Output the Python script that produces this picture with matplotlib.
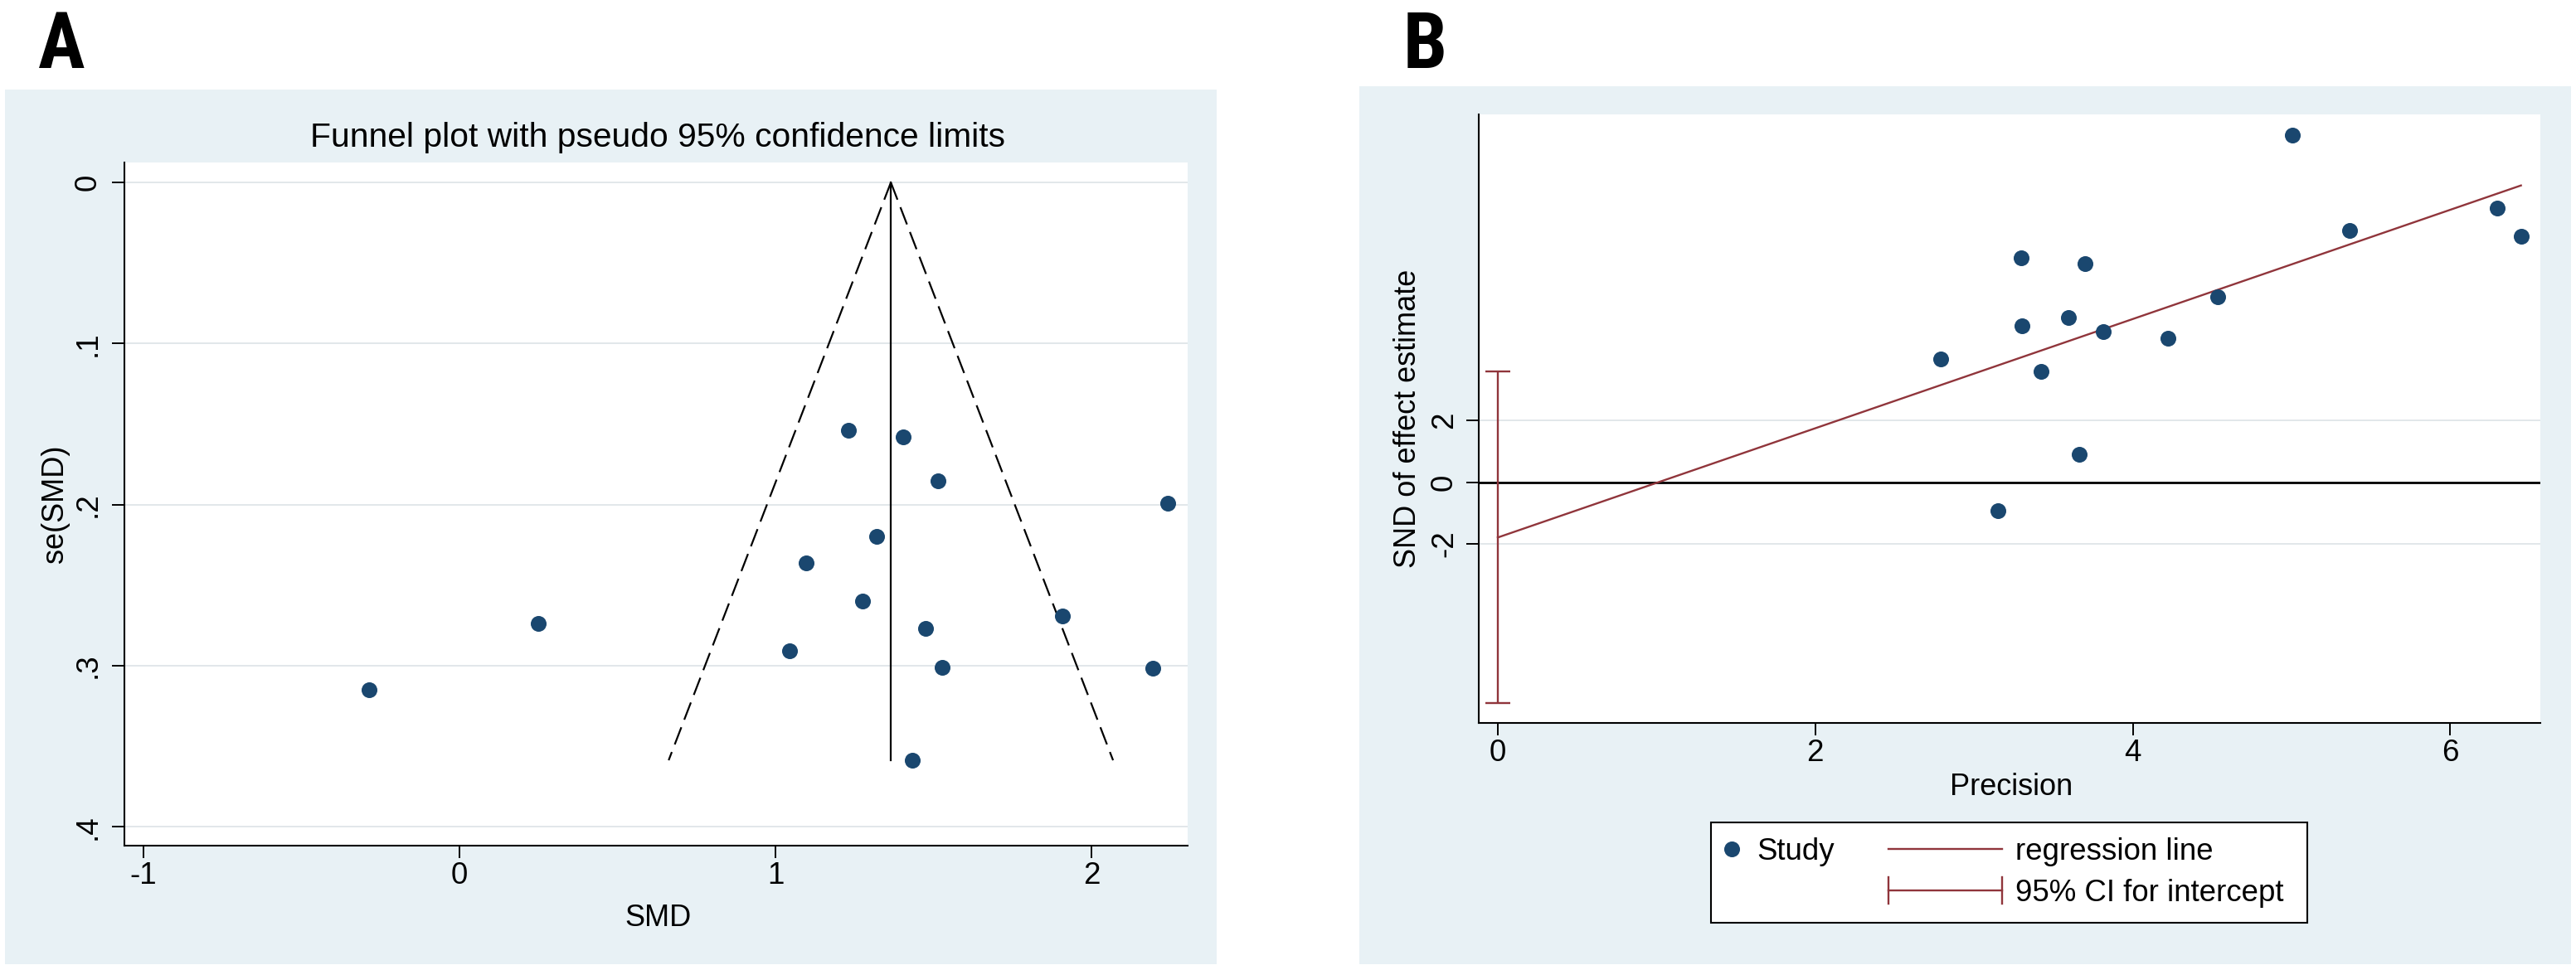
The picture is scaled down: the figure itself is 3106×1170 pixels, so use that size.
import matplotlib
matplotlib.use('Agg')
import matplotlib.pyplot as plt
from matplotlib.patches import Rectangle
from matplotlib.lines import Line2D
from matplotlib.legend_handler import HandlerBase
from matplotlib import font_manager as fm

# ---------------- data ----------------
# Panel A: funnel plot
smd = [-0.286, 0.25, 1.231, 1.404, 1.514, 2.240, 1.320, 1.097, 1.276, 1.908,
       1.475, 1.044, 1.526, 2.194, 1.432]
se_smd = [0.315, 0.274, 0.154, 0.158, 0.185, 0.199, 0.2195, 0.236, 0.260, 0.269,
          0.277, 0.2905, 0.301, 0.3016, 0.3587]
pooled_smd = 1.365
funnel_z = 1.96
a_xticks = [-1, 0, 1, 2]
a_xticklabels = ['-1', '0', '1', '2']
a_yticks = [0, 0.1, 0.2, 0.3, 0.4]
a_yticklabels = ['0', '.1', '.2', '.3', '.4']
a_title = 'Funnel plot with pseudo 95% confidence limits'

# Panel B: Egger regression plot
precision = [3.15, 3.66, 6.445, 6.294, 5.368, 5.005, 4.533, 4.222, 3.816, 3.699,
             3.594, 3.423, 3.303, 3.298, 2.79]
snd = [-0.91, 0.91, 7.96, 8.88, 8.17, 11.26, 6.02, 4.66, 4.89, 7.08,
       5.33, 3.58, 5.06, 7.28, 3.99]
reg_intercept = -1.79
reg_slope = 1.77
ci_intercept = [-7.16, 3.58]
b_xticks = [0, 2, 4, 6]
b_xticklabels = ['0', '2', '4', '6']
b_yticks = [-2, 0, 2]
b_yticklabels = ['-2', '0', '2']
legend_labels = ['Study', 'regression line', '95% CI for intercept']

# ---------------- style ----------------
NAVY = '#1a476f'
MAROON = '#90353b'
BG = '#e8f1f5'
GRID = '#dfe5e8'

names = {f.name for f in fm.fontManager.ttflist}
BASE = 'Liberation Sans' if 'Liberation Sans' in names else 'DejaVu Sans'
plt.rcParams['font.family'] = [BASE, 'DejaVu Sans']
plt.rcParams['axes.unicode_minus'] = False


def _wval(w):
    if isinstance(w, str):
        return fm.weight_dict.get(w, 400)
    return w


def find_condensed_bold():
    cands = []
    for f in fm.fontManager.ttflist:
        narrow = ('Narrow' in f.name or 'Condensed' in f.name or
                  f.stretch in ('condensed', 'semi-condensed', 'extra-condensed'))
        w = _wval(f.weight)
        if narrow and w >= 600 and f.style == 'normal':
            score = 0
            if 'Liberation Sans Narrow' in f.name:
                score = 3
            elif 'Arimo' in f.name or 'Roboto' in f.name or 'Open Sans' in f.name:
                score = 2
            elif 'DejaVu Sans' in f.name and 'Mono' not in f.name:
                score = 1
            cands.append((-abs(w - 700), score, f.fname))
    if cands:
        cands.sort(reverse=True)
        return fm.FontProperties(fname=cands[0][2], size=68)
    return fm.FontProperties(family=BASE, weight='bold', stretch='condensed', size=68)


LETTER_FP = find_condensed_bold()

W, H = 3106, 1170
fig = plt.figure(figsize=(W / 100, H / 100), dpi=100)
fig.patch.set_facecolor('white')


def fx(px):
    return px / W


def fy(py):
    return 1 - py / H


def fig_rect(x0, y0, x1, y1, **kw):
    fig.patches.append(Rectangle((fx(x0), fy(y1)), fx(x1) - fx(x0), fy(y0) - fy(y1),
                                 transform=fig.transFigure, **kw))


fig_rect(6, 108, 1467, 1163, facecolor=BG, edgecolor='none', zorder=-10)
fig_rect(1639, 104, 3100, 1163, facecolor=BG, edgecolor='none', zorder=-10)

TICK_FS = 26.5
LABEL_FS = 26


def style_axes(ax):
    ax.set_facecolor('white')
    for s in ['top', 'right']:
        ax.spines[s].set_visible(False)
    for s in ['left', 'bottom']:
        ax.spines[s].set_linewidth(1.5)
        ax.spines[s].set_color('black')
    ax.set_axisbelow(True)


# ---------------- Panel A ----------------
axA = fig.add_axes([fx(150), fy(1020), (1432 - 150) / W, (1020 - 196) / H])
style_axes(axA)
se_max = max(se_smd)
axA.plot([pooled_smd, pooled_smd - funnel_z * se_max], [0, se_max],
         color='black', lw=1.6, linestyle=(0, (10, 4.4)), zorder=2)
axA.plot([pooled_smd, pooled_smd + funnel_z * se_max], [0, se_max],
         color='black', lw=1.6, linestyle=(0, (10, 4.4)), zorder=2)
axA.plot([pooled_smd, pooled_smd], [0, se_max], color='black', lw=1.6, zorder=2)
axA.plot(smd, se_smd, 'o', color=NAVY, ms=13.7, mew=0, zorder=3)
axA.set_xlim(-1.06, 2.304)
axA.set_ylim(0.4117, -0.0124)
axA.set_xticks(a_xticks)
axA.set_xticklabels(a_xticklabels)
axA.set_yticks(a_yticks)
axA.set_yticklabels(a_yticklabels, rotation=90, va='center')
axA.grid(axis='y', color=GRID, lw=1.3)
axA.tick_params(axis='both', length=10.8, width=1.4, labelsize=TICK_FS)
axA.tick_params(axis='x', pad=3)
axA.tick_params(axis='y', pad=8)
axA.set_xlabel('SMD', fontsize=LABEL_FS)
axA.set_ylabel('se(SMD)', fontsize=LABEL_FS)
axA.xaxis.set_label_coords(0.5016, -0.1056)
axA.xaxis.label.set_va('center')
axA.yaxis.set_label_coords(-0.0655, 0.5)
axA.yaxis.label.set_va('center')
axA.yaxis.label.set_ha('center')
fig.text(fx(793), fy(177), a_title, fontsize=29.3, ha='center', va='baseline')
fig.text(fx(46), fy(82), 'A', fontproperties=LETTER_FP, ha='left', va='baseline')

# ---------------- Panel B ----------------
axB = fig.add_axes([fx(1783), fy(872), (3063 - 1783) / W, (872 - 138) / H])
style_axes(axB)
axB.axhline(0, color='black', lw=2.0, zorder=1.5)
xmax = max(precision)
axB.plot([0, xmax], [reg_intercept, reg_intercept + reg_slope * xmax],
         color=MAROON, lw=1.7, zorder=2)
axB.errorbar([0], [(ci_intercept[0] + ci_intercept[1]) / 2],
             yerr=[[(ci_intercept[1] - ci_intercept[0]) / 2]],
             fmt='none', ecolor=MAROON, elinewidth=1.7, capsize=10.8, capthick=1.7,
             zorder=2)
axB.plot(precision, snd, 'o', color=NAVY, ms=13.7, mew=0, zorder=3)
axB.set_xlim(-0.12, 6.567)
axB.set_ylim(-7.80, 11.92)
axB.set_xticks(b_xticks)
axB.set_xticklabels(b_xticklabels)
axB.set_yticks(b_yticks)
axB.set_yticklabels(b_yticklabels, rotation=90, va='center')
axB.grid(axis='y', color=GRID, lw=1.3)
axB.tick_params(axis='both', length=10.8, width=1.4, labelsize=TICK_FS)
axB.tick_params(axis='x', pad=3)
axB.tick_params(axis='y', pad=6.5)
axB.set_xlabel('Precision', fontsize=LABEL_FS)
axB.set_ylabel('SND of effect estimate', fontsize=LABEL_FS)
axB.xaxis.set_label_coords(0.5016, -0.106)
axB.xaxis.label.set_va('center')
axB.yaxis.set_label_coords(-0.067, 0.5)
axB.yaxis.label.set_va('center')
axB.yaxis.label.set_ha('center')
fig.text(fx(1692), fy(82), 'B', fontproperties=LETTER_FP, ha='left', va='baseline')


# ---------------- legend ----------------
class HandlerLongSample(HandlerBase):
    """Line sample anchored at the right of the handle box, extending left."""

    def __init__(self, length_pt, caps=False, cap_pt=0.0):
        super().__init__()
        self.length_pt = length_pt
        self.caps = caps
        self.cap_pt = cap_pt

    def create_artists(self, legend, orig_handle, xdescent, ydescent, width,
                       height, fontsize, trans):
        y = height / 2 - ydescent
        xr = -xdescent + width
        xl = xr - self.length_pt
        color = orig_handle.get_color()
        lw = orig_handle.get_linewidth()
        arts = [Line2D([xl, xr], [y, y], color=color, lw=lw)]
        if self.caps:
            h = self.cap_pt / 2
            arts.append(Line2D([xl, xl], [y - h, y + h], color=color, lw=lw))
            arts.append(Line2D([xr, xr], [y - h, y + h], color=color, lw=lw))
        for a in arts:
            a.set_transform(trans)
        return arts


h_study = Line2D([], [], marker='o', color=NAVY, ls='none', ms=13.7, mew=0)
h_reg = Line2D([], [], color=MAROON, lw=1.7)
h_ci = Line2D([], [], color=MAROON, lw=1.7)
h_blank = Line2D([], [], color='none', lw=0)

# legend box (frame) drawn at the figure level, entries laid out by the legend
fig_rect(2063, 992, 2782, 1113, facecolor='white', edgecolor='black', lw=1.5, zorder=4)
leg = fig.legend([h_study, h_blank, h_reg, h_ci],
                 [legend_labels[0], '', legend_labels[1], legend_labels[2]],
                 ncol=2, mode='expand', loc='center',
                 bbox_to_anchor=(fx(2063), fy(1113), (2765 - 2063) / W, (1113 - 992) / H),
                 bbox_transform=fig.transFigure,
                 fontsize=26.4, frameon=False,
                 borderaxespad=0, borderpad=0.3, labelspacing=0.4,
                 handlelength=0.76, handletextpad=0.46, columnspacing=1.0,
                 handler_map={h_reg: HandlerLongSample(98.6),
                              h_ci: HandlerLongSample(98.6, caps=True, cap_pt=23)})
leg.set_zorder(5)

fig.savefig('out.png', dpi=100, facecolor='white')
